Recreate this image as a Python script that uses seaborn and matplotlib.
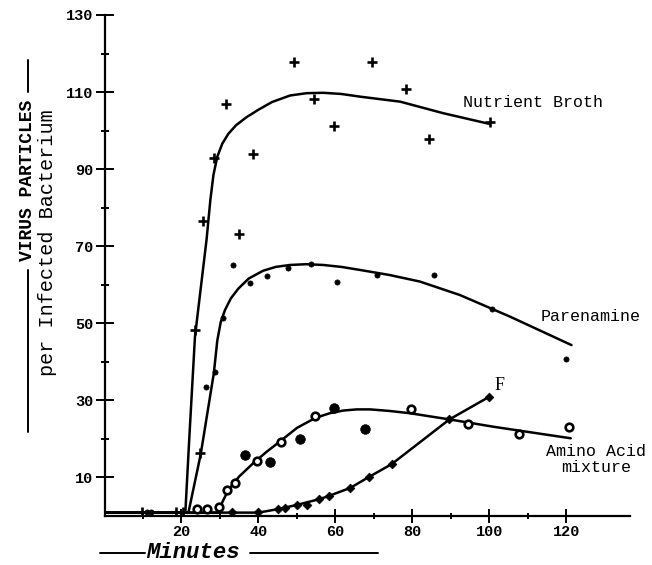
import numpy as np
import pandas as pd
import matplotlib
matplotlib.use("Agg")
import matplotlib.pyplot as plt
import seaborn as sns
from matplotlib.lines import Line2D

# ---------------- data ----------------
# Nutrient Broth points (+)
broth_x = [9.8, 18.5, 20.5, 24.8, 23.6, 25.7, 28.5, 31.5, 34.9, 38.5, 49.3, 54.5, 59.5, 69.4, 78.2, 84.4, 100.1]
broth_y = [1.0, 1.0, 1.0, 16.2, 48.2, 76.4, 93.0, 106.9, 73.2, 93.8, 117.9, 108.2, 101.2, 117.7, 110.8, 97.9, 102.2]
# Nutrient Broth fitted curve
broth_curve_x = [0, 21.0, 22.0, 23.5, 26.5, 27.5, 28.3, 29.3, 30.6, 32.2, 34.2, 36.8, 39.8, 43.5, 48.2, 52.5, 56.8, 61.5, 66.4, 76.8, 88.0, 100.1]
broth_curve_y = [0.8, 0.8, 19.7, 46.5, 71.6, 82.0, 88.5, 93.2, 96.6, 99.2, 101.4, 103.4, 105.3, 107.4, 109.1, 109.7, 109.8, 109.5, 108.8, 107.5, 104.5, 101.7]

# Parenamine points (small dots)
paren_x = [11.0, 12.2, 26.4, 28.7, 30.9, 33.3, 37.7, 42.2, 47.7, 53.6, 60.5, 70.7, 85.6, 100.7, 119.8]
paren_y = [1.0, 1.0, 33.4, 37.3, 51.3, 65.1, 60.3, 62.3, 64.2, 65.4, 60.7, 62.5, 62.5, 53.6, 40.8]
paren_curve_x = [0, 21.8, 25.0, 28.4, 29.3, 30.2, 31.3, 32.8, 34.8, 37.5, 41.2, 44.5, 48.2, 52.5, 56.8, 61.5, 66.4, 74.0, 81.9, 92.3, 105.3, 121.3]
paren_curve_y = [0.8, 0.8, 16.0, 37.0, 45.5, 50.3, 53.4, 56.4, 59.0, 61.6, 63.6, 64.6, 65.1, 65.3, 65.1, 64.6, 63.8, 62.5, 60.8, 57.3, 51.7, 44.3]

# Amino Acid mixture points (open and filled circles)
amino_open_x = [24.1, 26.7, 29.8, 31.8, 34.0, 39.7, 45.8, 54.8, 79.5, 94.3, 107.7, 120.6]
amino_open_y = [1.7, 1.8, 2.2, 6.7, 8.6, 14.3, 19.1, 26.0, 27.6, 23.9, 21.2, 23.1]
amino_fill_x = [36.6, 43.0, 50.7, 59.5, 67.6]
amino_fill_y = [15.8, 13.9, 19.9, 27.9, 22.4]
amino_curve_x = [0, 29.6, 30.6, 32.2, 35.0, 38.6, 42.0, 45.6, 50.0, 54.8, 58.5, 62.0, 65.5, 69.0, 74.0, 79.4, 89.6, 101.0, 121.1]
amino_curve_y = [0.8, 0.8, 3.5, 6.7, 10.2, 13.6, 16.5, 19.3, 22.8, 25.4, 26.6, 27.3, 27.6, 27.6, 27.2, 26.6, 25.0, 23.1, 20.1]

# F points (diamonds)
f_x = [33.0, 40.0, 45.0, 46.9, 49.9, 52.7, 55.8, 58.2, 63.8, 68.6, 74.6, 89.6, 99.8]
f_y = [1.0, 1.0, 1.7, 2.0, 2.9, 2.7, 4.3, 5.1, 7.2, 10.0, 13.4, 25.0, 30.8]
f_curve_x = [0, 40.0, 45.0, 50.0, 55.8, 58.2, 63.8, 68.6, 74.6, 89.6, 99.8]
f_curve_y = [0.8, 0.8, 1.7, 2.8, 4.3, 5.1, 7.2, 10.0, 13.4, 25.0, 30.8]

x_major = [20, 40, 60, 80, 100, 120]
x_minor = [10, 30, 50, 70, 90, 110]
y_major = [10, 30, 50, 70, 90, 110, 130]
y_minor = [20, 40, 60, 80, 100, 120]

# ---------------- drawing ----------------
sns.set_theme(style="white")
plt.rcParams["font.family"] = ["Liberation Mono", "DejaVu Sans"]

W, H = 652, 565
fig = plt.figure(figsize=(W / 100, H / 100), dpi=100)
fig.patch.set_facecolor("white")
x0, x1, y0, y1 = 104.5, 630, 515.7, 15
ax = fig.add_axes([x0 / W, 1 - y0 / H, (x1 - x0) / W, (y0 - y1) / H])
ax.set_facecolor("white")

lw = 1.8
for cx, cy in [(broth_curve_x, broth_curve_y), (paren_curve_x, paren_curve_y),
               (amino_curve_x, amino_curve_y), (f_curve_x, f_curve_y)]:
    sns.lineplot(x=cx, y=cy, sort=False, estimator=None, color="black",
                 linewidth=lw, ax=ax, legend=False)

sns.scatterplot(x=broth_x, y=broth_y, marker="+", s=48, color="black",
                linewidth=1.9, ax=ax, legend=False, zorder=5)
sns.scatterplot(x=paren_x, y=paren_y, marker="o", s=14, color="black",
                edgecolor="black", linewidth=0.5, ax=ax, legend=False, zorder=5)
sns.scatterplot(x=amino_open_x, y=amino_open_y, marker="o", s=30, facecolor="white",
                edgecolor="black", linewidth=1.9, ax=ax, legend=False, zorder=5)
sns.scatterplot(x=amino_fill_x, y=amino_fill_y, marker="o", s=48, color="black",
                edgecolor="black", linewidth=0.5, ax=ax, legend=False, zorder=5)
sns.scatterplot(x=f_x, y=f_y, marker="D", s=20, color="black",
                edgecolor="black", linewidth=0.5, ax=ax, legend=False, zorder=5)

ax.set_xlim(0, 136.5)
ax.set_ylim(0, 130)
sns.despine(ax=ax, top=True, right=True)
for side in ["left", "bottom"]:
    ax.spines[side].set_linewidth(1.6)
    ax.spines[side].set_color("black")

ax.set_xticks(x_major)
ax.set_xticks(x_minor, minor=True)
ax.set_yticks(y_major)
ax.set_yticks(y_minor, minor=True)
ax.set_xticklabels([str(v) for v in x_major])
ax.set_yticklabels([str(v) for v in y_major])
ax.tick_params(axis="y", which="major", direction="inout", length=12.5, width=1.4,
               color="black", labelsize=11, pad=2, left=True)
ax.tick_params(axis="y", which="minor", direction="inout", length=6, width=1.4,
               color="black", left=True)
ax.tick_params(axis="x", which="major", direction="inout", length=9.5, width=1.4,
               color="black", labelsize=11, pad=2, bottom=True)
ax.tick_params(axis="x", which="minor", direction="inout", length=4.5, width=1.4,
               color="black", bottom=True)
for lab in ax.get_xticklabels() + ax.get_yticklabels():
    lab.set_fontweight("bold")
    lab.set_color("black")

# curve labels
ax.text(93.2, 107.2, "Nutrient Broth", ha="left", va="center", fontsize=12, color="black")
ax.text(113.4, 51.6, "Parenamine", ha="left", va="center", fontsize=12, color="black")
ax.text(127.7, 16.6, "Amino Acid", ha="center", va="center", fontsize=12, color="black")
ax.text(127.7, 12.6, "mixture", ha="center", va="center", fontsize=12, color="black")
ax.text(102.7, 33.8, "F", ha="center", va="center", fontsize=13, color="black",
        family=["Liberation Serif", "DejaVu Serif"])

# y-axis label (two rotated lines with rule segments)
def fy(p):
    return 1 - p / H
def fx(p):
    return p / W

fig.text(fx(28), fy(180), "VIRUS PARTICLES", rotation=90, ha="center", va="center",
         fontsize=13, fontweight="bold", color="black")
fig.text(fx(48), fy(243), "per Infected Bacterium", rotation=90, ha="center", va="center",
         fontsize=14.5, color="black")
fig.add_artist(Line2D([fx(28), fx(28)], [fy(60), fy(92)], color="black", lw=1.4))
fig.add_artist(Line2D([fx(28), fx(28)], [fy(270), fy(432)], color="black", lw=1.4))

# x-axis label
fig.text(fx(193), fy(553), "Minutes", ha="center", va="center", fontsize=16,
         fontstyle="italic", fontweight="bold", color="black")
fig.add_artist(Line2D([fx(100), fx(145)], [fy(553), fy(553)], color="black", lw=1.4))
fig.add_artist(Line2D([fx(250), fx(378)], [fy(553), fy(553)], color="black", lw=1.4))

fig.savefig("out.png", dpi=100, facecolor="white")
